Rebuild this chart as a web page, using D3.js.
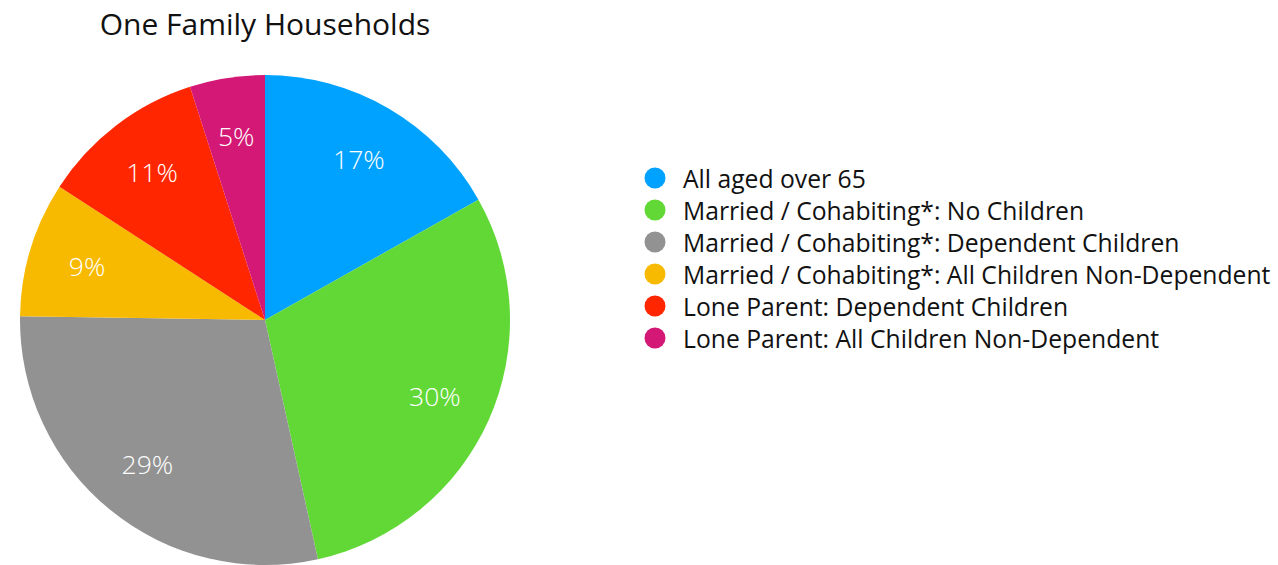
<!DOCTYPE html>
<html>
<head>
<meta charset="utf-8">
<script src="https://cdn.jsdelivr.net/npm/d3@7"></script>
<style>
  html, body { margin: 0; padding: 0; background: #fff; }
  svg { display: block; font-family: "Open Sans", Lato, sans-serif; }
</style>
</head>
<body>
<svg id="chart" width="1278" height="565"></svg>
<script>
// Household composition shares (percent)
const categories = [
  "All aged over 65",
  "Married / Cohabiting*: No Children",
  "Married / Cohabiting*: Dependent Children",
  "Married / Cohabiting*: All Children Non-Dependent",
  "Lone Parent: Dependent Children",
  "Lone Parent: All Children Non-Dependent"
];
const values = [17, 30, 29, 9, 11, 5];
const colors = ["#00A2FF", "#61D836", "#929292", "#F8BA00", "#FF2600", "#D31876"];
const title = "One Family Households";

const svg = d3.select("#chart");
const cx = 265, cy = 320, radius = 245;

svg.append("text")
  .attr("x", 265).attr("y", 35)
  .attr("text-anchor", "middle")
  .attr("font-size", 30)
  .attr("fill", "#111")
  .text(title);

const data = categories.map((c, i) => ({ name: c, value: values[i], color: colors[i] }));

const pie = d3.pie().sort(null).value(d => d.value);
const arc = d3.arc().innerRadius(0).outerRadius(radius);
const labelArc = d3.arc().innerRadius(186).outerRadius(186);

const g = svg.append("g").attr("transform", `translate(${cx},${cy})`);
const arcs = pie(data);

g.selectAll("path.slice")
  .data(arcs)
  .join("path")
  .attr("class", "slice")
  .attr("d", arc)
  .attr("fill", d => d.data.color);

g.selectAll("text.pct")
  .data(arcs)
  .join("text")
  .attr("class", "pct")
  .attr("transform", d => `translate(${labelArc.centroid(d)})`)
  .attr("text-anchor", "middle")
  .attr("dominant-baseline", "central")
  .attr("font-size", 26.5)
  .attr("font-weight", 300)
  .attr("fill", "#fff")
  .text(d => d.data.value + "%");

const legend = svg.append("g").attr("transform", "translate(655,178)");
const rows = legend.selectAll("g.row")
  .data(data)
  .join("g")
  .attr("class", "row")
  .attr("transform", (d, i) => `translate(0,${i * 32})`);

rows.append("circle")
  .attr("r", 10.5)
  .attr("fill", d => d.color);

rows.append("text")
  .attr("x", 28)
  .attr("dominant-baseline", "central")
  .attr("font-size", 24.7)
  .attr("fill", "#111")
  .text(d => d.name);
</script>
</body>
</html>
